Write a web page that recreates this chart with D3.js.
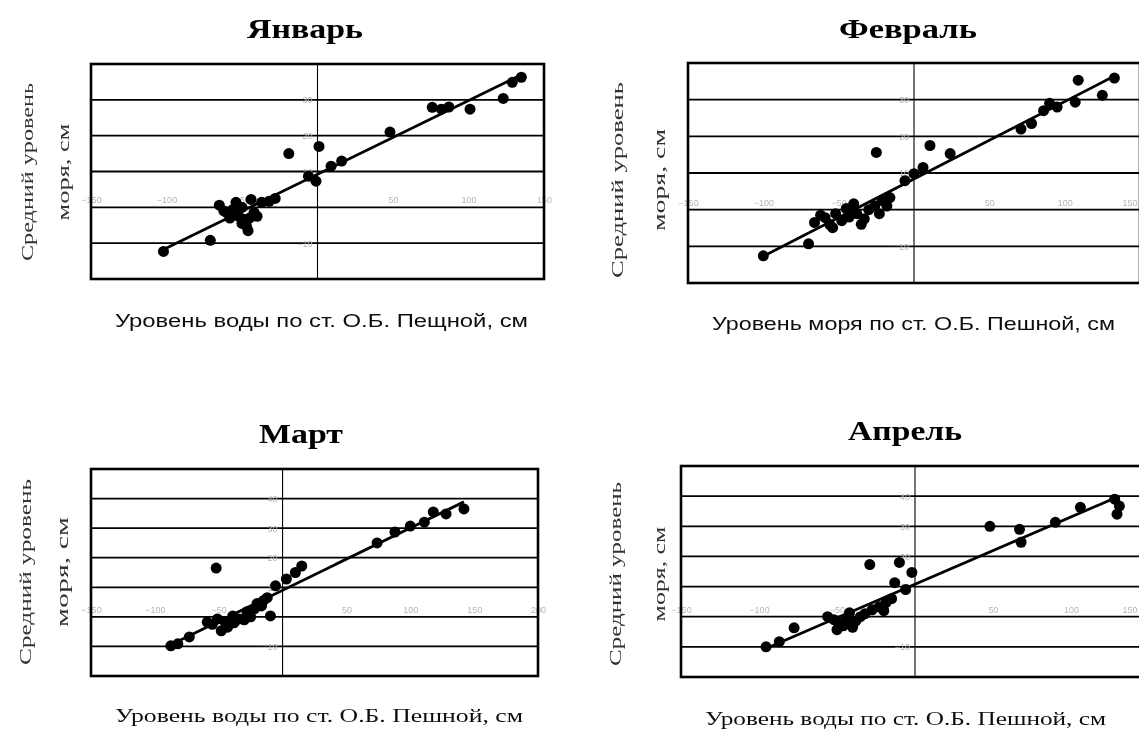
<!DOCTYPE html>
<html><head><meta charset="utf-8">
<script src="https://cdn.jsdelivr.net/npm/d3@7"></script>
<style>
html,body{margin:0;padding:0;background:#fff;}
svg{display:block;}
</style>
</head><body>
<svg id="c" width="1139" height="736"></svg>
<script>
// ---------- data ----------
const months = ["Январь", "Февраль", "Март", "Апрель"];
const xTitles = [
  "Уровень воды по ст. О.Б. Пещной, см",
  "Уровень моря по ст. О.Б. Пешной, см",
  "Уровень воды по ст. О.Б. Пешной, см",
  "Уровень воды по ст. О.Б. Пешной, см"
];
const yTitleLines = ["Средний уровень", "моря, см"];

const janX = [-102, -71, -65, -56, -52, -47, -42, -37, -54, -44, -48, -32, -60, -58, -50, -45, -40, -50, -46, -28, -62, -19, 1, -1, -6, 9, 16, 48, 76, 82, 87, 101, 123, 129, 135];
const janY = [-12.3, -9.2, 0.6, -0.6, -2.5, -5.3, -1.4, 1.4, 1.4, 2.2, -3.4, 1.7, -1.5, -3, -4.5, -3, -2.5, 0, -6.5, 2.5, -1, 15, 17, 7.3, 8.7, 11.5, 12.9, 21, 27.9, 27.4, 28, 27.4, 30.4, 34.9, 36.3];

const febX = [-100, -70, -66, -59, -52, -45, -38, -33, -40, -26, -21, -16, -23, -54, -62, -48, -43, -30, -18, -56, -35, -25, 10.6, -6, 0, 6, 24, 71, 78, 86, 90, 95, 107, 109, 125, 133];
const febY = [-12.6, -9.3, -3.5, -2.2, -1.1, 0.3, -1.1, -2.5, 1.6, 1.1, 2.5, 3.3, -1.1, -4.9, -1.5, -3, -2, 0, 1, -4, -4, 15.6, 17.5, 7.9, 9.8, 11.5, 15.3, 22, 23.5, 27, 29, 28, 29.3, 35.3, 31.2, 35.9];

const marX = [-87.5, -82, -73, -51, -45, -39, -34, -48, -28, -22, -16.5, -9.5, -59, -43, -38, -30, -55, -25, -20, -12, -15, -52, -5.5, 3, 10, 15, 74, 88, 100, 111, 118, 128, 142];
const marY = [-9.8, -9.1, -6.8, -0.7, -1.8, 0.3, -0.7, -4.7, 1.7, 2.7, 3.7, 0.3, -1.8, -3.5, -2, -1, -2.5, 0, 4.5, 6.5, 5.5, 16.5, 10.5, 12.8, 15, 17.2, 25, 28.7, 30.7, 32, 35.5, 34.8, 36.5];

const aprX = [-95.5, -87, -77.5, -56, -49, -50, -42, -35, -27.5, -23, -18.6, -44, -52, -46, -38, -32, -20, -40, -15, -29, -10, -13, -6, -2, 48, 67, 68, 90, 106, 128, 129.5, 131];
const aprY = [-10, -8.3, -3.7, 0, -2, -4.3, 1.3, 0, 2.3, 3.3, 4.7, -1, -1, -3, -1.5, 1, 2, -3.5, 6, 17.3, 18, 11.3, 9, 14.7, 30, 29, 24.7, 31.3, 36.3, 39, 34, 36.7];

const xDomainJan = [-150, 150], xDomainFeb = [-150, 150], xDomainMar = [-150, 200], xDomainApr = [-150, 150];
const yDomainJan = [-20, 40], yDomainFeb = [-20, 40], yDomainMar = [-20, 50], yDomainApr = [-20, 50];
const xTicksJan = [-150, -100, -50, 50, 100, 150];
const xTicksFeb = [-150, -100, -50, 50, 100, 150];
const xTicksMar = [-150, -100, -50, 50, 100, 150, 200];
const xTicksApr = [-150, -100, -50, 50, 100, 150];
const yGridJanFeb = [-20, -10, 0, 10, 20, 30, 40];
const yGridMarApr = [-20, -10, 0, 10, 20, 30, 40, 50];
const yLabelsJanFeb = [-10, 10, 20, 30];
const yLabelsMarApr = [-10, 10, 20, 30, 40];

// ---------- layout ----------
const W = 1139;
const panels = [
  {xs: janX, ys: janY, xd: xDomainJan, yd: yDomainJan, xt: xTicksJan, yg: yGridJanFeb, yl: yLabelsJanFeb,
   box: [91, 544, 64, 279], title: [305, 38, 116], yt: [27, 63, 172, 178, 97], xl: [115, 528, 327], sans: true},
  {xs: febX, ys: febY, xd: xDomainFeb, yd: yDomainFeb, xt: xTicksFeb, yg: yGridJanFeb, yl: yLabelsJanFeb,
   box: [688, 1140, 63, 283], title: [908, 38, 138], yt: [617, 659, 180, 196, 102], xl: [712, 1115, 330], sans: true},
  {xs: marX, ys: marY, xd: xDomainMar, yd: yDomainMar, xt: xTicksMar, yg: yGridMarApr, yl: yLabelsMarApr,
   box: [91, 538, 469, 676], title: [301, 443, 84], yt: [25, 62, 572, 186, 110], xl: [115, 523, 722], sans: false},
  {xs: aprX, ys: aprY, xd: xDomainApr, yd: yDomainApr, xt: xTicksApr, yg: yGridMarApr, yl: yLabelsMarApr,
   box: [681, 1149, 466, 677], title: [905, 440, 114], yt: [615, 659, 574, 184, 95], xl: [705, 1106, 725], sans: false}
];

const svg = d3.select("#c");
const defs = svg.append("defs");
defs.append("filter").attr("id", "scan").append("feGaussianBlur").attr("stdDeviation", 0.45);
const root = svg.append("g").attr("filter", "url(#scan)");

panels.forEach((p, i) => {
  const [bx0, bx1, by0, by1] = p.box;
  const x = d3.scaleLinear().domain(p.xd).range([bx0, bx1]);
  const y = d3.scaleLinear().domain(p.yd).range([by1, by0]);
  const g = root.append("g");

  // title
  g.append("text").attr("x", p.title[0]).attr("y", p.title[1])
    .attr("text-anchor", "middle")
    .attr("font-family", "'Liberation Serif', 'DejaVu Serif', serif")
    .attr("font-weight", "bold").attr("font-size", 27)
    .attr("textLength", p.title[2]).attr("lengthAdjust", "spacingAndGlyphs")
    .text(months[i]);

  // horizontal gridlines
  g.append("g").selectAll("line").data(p.yg).join("line")
    .attr("x1", bx0).attr("x2", bx1)
    .attr("y1", d => y(d)).attr("y2", d => y(d))
    .attr("stroke", "#000").attr("stroke-width", 1.8);

  // vertical axis at x=0
  g.append("line").attr("x1", x(0)).attr("x2", x(0))
    .attr("y1", by0).attr("y2", by1)
    .attr("stroke", "#000").attr("stroke-width", 1.1);

  // x axis tick labels along y=0
  const xa = d3.axisTop(x).tickValues(p.xt).tickSize(0).tickPadding(4);
  const xg = g.append("g").attr("transform", `translate(0,${y(0)})`).call(xa);
  xg.select(".domain").remove();
  xg.selectAll("text").attr("fill", "#b5b5b5").attr("font-size", 9)
    .attr("font-family", "'Liberation Sans', Arial, sans-serif")
    .attr("text-anchor", d => x(d) + 10 > W ? "end" : "middle")
    .attr("dx", d => x(d) + 10 > W ? (W - 2 - x(d)) : 0);

  // y axis tick labels along x=0
  const ya = d3.axisLeft(y).tickValues(p.yl).tickSize(0).tickPadding(5);
  const yg = g.append("g").attr("transform", `translate(${x(0)},0)`).call(ya);
  yg.select(".domain").remove();
  yg.selectAll("text").attr("fill", "#b5b5b5").attr("font-size", 9)
    .attr("font-family", "'Liberation Sans', Arial, sans-serif");

  // box
  g.append("rect").attr("x", bx0).attr("y", by0)
    .attr("width", bx1 - bx0).attr("height", by1 - by0)
    .attr("fill", "none").attr("stroke", "#000").attr("stroke-width", 2.6);

  // points
  const pts = p.xs.map((v, k) => [v, p.ys[k]]);
  g.append("g").selectAll("circle").data(pts).join("circle")
    .attr("cx", d => x(d[0])).attr("cy", d => y(d[1]))
    .attr("r", 5.5).attr("fill", "#000");

  // least squares regression line
  const mx = d3.mean(p.xs), my = d3.mean(p.ys);
  let sxy = 0, sxx = 0;
  pts.forEach(d => { sxy += (d[0] - mx) * (d[1] - my); sxx += (d[0] - mx) * (d[0] - mx); });
  const b = sxy / sxx, a = my - b * mx;
  const [xmin, xmax] = d3.extent(p.xs);
  g.append("line")
    .attr("x1", x(xmin)).attr("y1", y(a + b * xmin))
    .attr("x2", x(xmax)).attr("y2", y(a + b * xmax))
    .attr("stroke", "#000").attr("stroke-width", 2.8);

  // y title (two rotated lines)
  const yfam = "'Liberation Serif', 'DejaVu Serif', serif";
  [0, 1].forEach(k => {
    const cx = p.yt[k] + 6;
    g.append("text")
      .attr("transform", `translate(${cx},${p.yt[2]}) rotate(-90)`)
      .attr("text-anchor", "middle")
      .attr("font-family", yfam).attr("font-size", 17)
      .attr("fill", "#333")
      .attr("textLength", p.yt[3 + k]).attr("lengthAdjust", "spacingAndGlyphs")
      .text(yTitleLines[k]);
  });

  // x title
  g.append("text")
    .attr("x", (p.xl[0] + p.xl[1]) / 2).attr("y", p.xl[2])
    .attr("text-anchor", "middle")
    .attr("font-family", p.sans ? "'Liberation Sans', Arial, sans-serif" : "'Liberation Serif', 'DejaVu Serif', serif")
    .attr("font-size", 18)
    .attr("fill", "#111")
    .attr("textLength", p.xl[1] - p.xl[0]).attr("lengthAdjust", "spacingAndGlyphs")
    .text(xTitles[i]);
});
</script>
</body></html>
